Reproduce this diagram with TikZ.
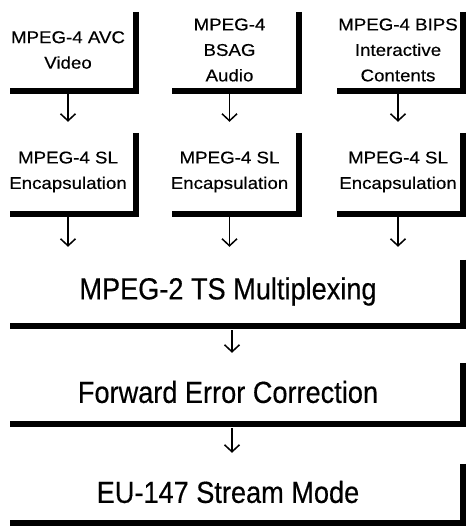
\documentclass[tikz,border=0pt]{standalone}
\usepackage{fontspec}
\setmainfont{Liberation Sans}
\newfontfamily\smallfont[FakeStretch=1.1,FakeBold=0.4]{Liberation Sans}
\newfontfamily\bigfont[FakeStretch=0.89,FakeBold=0.4]{Liberation Sans}
\usetikzlibrary{arrows.meta}
\newcommand\Lbar[2]{\draw[bar] ([xshift=3pt]#1.north east) -- ([xshift=3pt,yshift=-3pt]#1.south east) -- ([xshift=#2,yshift=-3pt]#1.south west);}
\begin{document}
\begin{tikzpicture}[x=1pt,y=-1pt,
  smallbox/.style={inner sep=0pt, align=center, font=\smallfont\fontsize{17}{25.5}\selectfont},
  bigbox/.style={inner sep=0pt, align=center, minimum width=464pt, font=\bigfont\fontsize{30.5}{34}\selectfont},
  bar/.style={line width=6pt, line cap=butt, line join=miter},
  arr/.style={line width=1.5pt, -{Straight Barb[length=7pt,width=15pt]}}]
\useasboundingbox (0,0) rectangle (466,526);
% top row
\node[smallbox, minimum width=130pt, minimum height=76pt] (a1) at (68,50) {MPEG-4 AVC\\Video};
\node[smallbox, minimum width=133pt, minimum height=76pt] (a2) at (229.5,50) {MPEG-4\\BSAG\\Audio};
\node[smallbox, minimum width=124pt, minimum height=76pt] (a3) at (398,50) {MPEG-4 BIPS\\Interactive\\Contents};
% second row
\node[smallbox, minimum width=130pt, minimum height=78pt] (b1) at (68,172) {MPEG-4 SL\\Encapsulation};
\node[smallbox, minimum width=133pt, minimum height=78pt] (b2) at (229.5,172) {MPEG-4 SL\\Encapsulation};
\node[smallbox, minimum width=124pt, minimum height=78pt] (b3) at (398,172) {MPEG-4 SL\\Encapsulation};
% wide boxes
\node[bigbox, minimum height=63pt] (m) at (228,291.5) {MPEG-2 TS Multiplexing};
\node[bigbox, minimum height=58pt] (f) at (228,392) {Forward Error Correction};
\node[bigbox, minimum height=56pt] (e) at (228,492) {EU-147 Stream Mode};
% shadow bars
\Lbar{a1}{7pt}\Lbar{a2}{9pt}\Lbar{a3}{1pt}
\Lbar{b1}{7pt}\Lbar{b2}{9pt}\Lbar{b3}{1pt}
\Lbar{m}{14pt}\Lbar{f}{14pt}\Lbar{e}{14pt}
% arrows
\foreach \i in {1,2,3}{
  \draw[arr, shorten <=6pt, shorten >=11pt] (a\i) -- (b\i);
  \draw[arr, shorten <=6pt, shorten >=13pt] (b\i.south) -- (b\i.south |- m.north);
}
\draw[arr, shorten <=7pt, shorten >=10pt] ([xshift=4pt]m.south) -- ([xshift=4pt]f.north);
\draw[arr, shorten <=7pt, shorten >=11pt] ([xshift=4pt]f.south) -- ([xshift=4pt]e.north);
\end{tikzpicture}
\end{document}
